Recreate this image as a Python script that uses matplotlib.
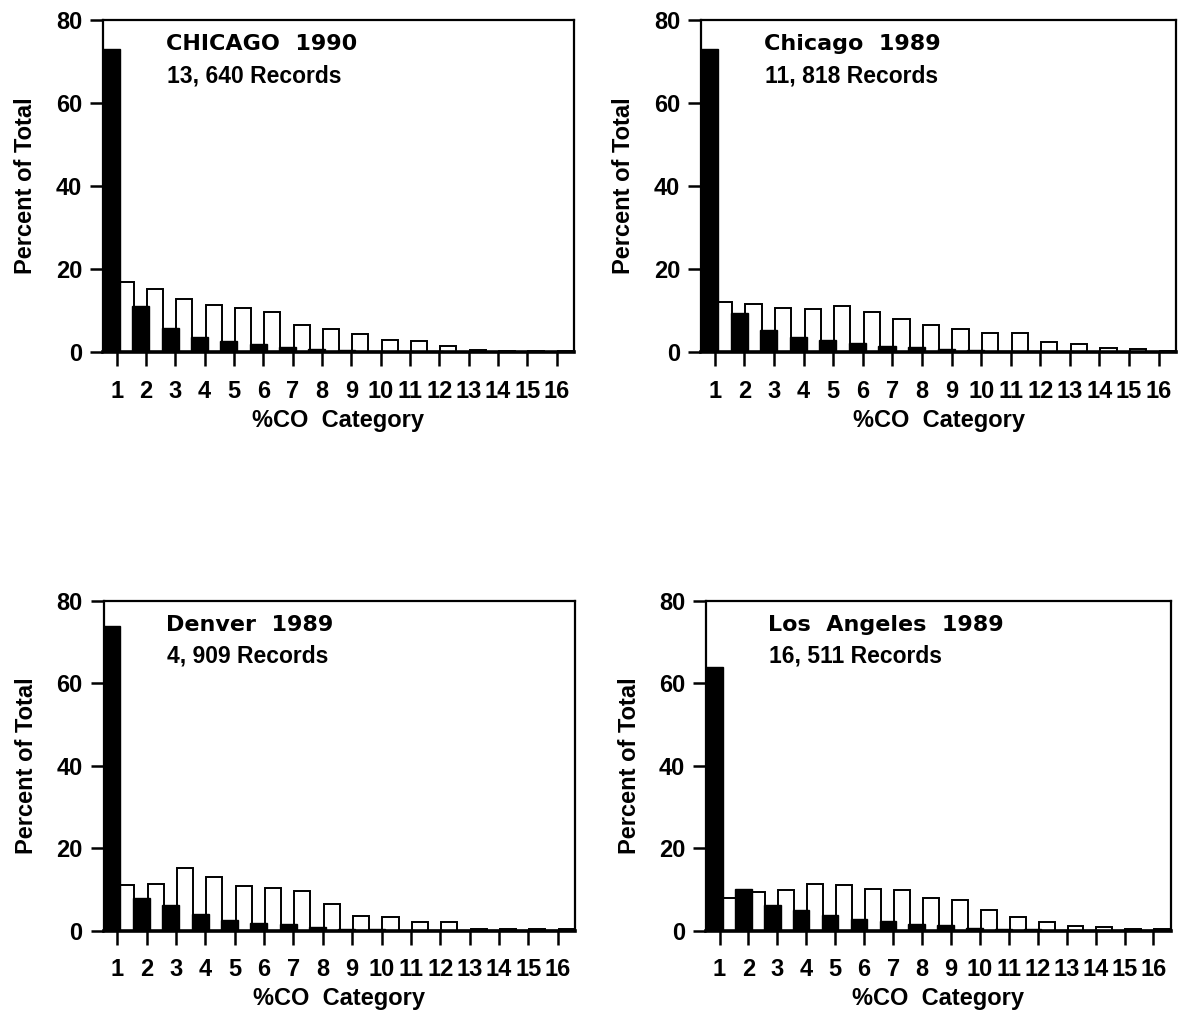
import matplotlib
matplotlib.use("Agg")
import matplotlib.pyplot as plt
import numpy as np

plt.rcParams['font.family'] = ['Liberation Sans', 'DejaVu Sans']

# ---------------- data ----------------
categories = list(range(1, 17))
tick_labels = [str(c) for c in categories]
y_ticks = [0, 20, 40, 60, 80]

titles = ["CHICAGO  1990", "Chicago  1989", "Denver  1989", "Los  Angeles  1989"]
records = ["13, 640 Records", "11, 818 Records", "4, 909 Records", "16, 511 Records"]

chi90_black = [73.0, 11.2, 5.8, 3.6, 2.6, 2.0, 1.2, 0.8, 0.5, 0.3, 0.2, 0.2, 0.1, 0.1, 0.1, 0.1]
chi90_white = [16.8, 15.2, 12.8, 11.3, 10.6, 9.7, 6.5, 5.5, 4.3, 3.0, 2.6, 1.5, 0.6, 0.2, 0.2, 0.2]

chi89_black = [73.0, 9.4, 5.2, 3.6, 3.0, 2.2, 1.5, 1.1, 0.8, 0.4, 0.3, 0.2, 0.2, 0.1, 0.1, 0.1]
chi89_white = [12.1, 11.6, 10.6, 10.4, 11.2, 9.7, 8.0, 6.4, 5.5, 4.6, 4.7, 2.5, 1.9, 0.9, 0.7, 0.3]

den_black = [74.0, 8.0, 6.2, 4.1, 2.6, 1.9, 1.6, 0.8, 0.4, 0.3, 0.2, 0.2, 0.1, 0.1, 0.1, 0.1]
den_white = [11.0, 11.4, 15.1, 13.1, 10.9, 10.4, 9.5, 6.4, 3.6, 3.3, 2.0, 2.0, 0.3, 0.4, 0.4, 0.4]

la_black = [64.0, 10.1, 6.2, 5.0, 3.8, 2.8, 2.4, 1.5, 1.3, 0.7, 0.4, 0.3, 0.2, 0.2, 0.1, 0.1]
la_white = [8.0, 9.4, 9.8, 11.3, 11.0, 10.0, 9.8, 8.0, 7.4, 5.1, 3.4, 2.1, 1.0, 0.8, 0.3, 0.3]

black_series = [chi90_black, chi89_black, den_black, la_black]
white_series = [chi90_white, chi89_white, den_white, la_white]

# ---------------- layout ----------------
fig = plt.figure(figsize=(11.82, 10.11), dpi=100)
positions = [
    [0.0871, 0.6518, 0.3985, 0.3284],
    [0.5931, 0.6518, 0.4019, 0.3284],
    [0.0876, 0.0796, 0.3989, 0.3259],
    [0.5973, 0.0796, 0.3930, 0.3259],
]

x = np.array(categories, dtype=float)

for pos, title, rec, blk, wht in zip(positions, titles, records, black_series, white_series):
    ax = fig.add_axes(pos)
    ax.bar(x + 0.305, wht, width=0.55, facecolor='white', edgecolor='black',
           linewidth=1.4, zorder=2)
    ax.bar(x - 0.18, blk, width=0.58, facecolor='black', edgecolor='black',
           linewidth=1.0, zorder=3)
    ax.set_xlim(0.533, 16.59)
    ax.set_ylim(0, 80)
    ax.set_xticks(x)
    ax.set_xticklabels(tick_labels)
    ax.set_yticks(y_ticks)
    ax.tick_params(axis='both', direction='out', width=1.8, labelsize=17)
    ax.tick_params(axis='y', length=9.5, pad=5.5)
    ax.tick_params(axis='x', length=10, pad=10)
    for lab in ax.get_xticklabels() + ax.get_yticklabels():
        lab.set_fontweight('bold')
    for side in ['left', 'top', 'right']:
        ax.spines[side].set_linewidth(1.6)
    ax.spines['bottom'].set_linewidth(2.6)
    for s in ax.spines.values():
        s.set_zorder(4)

    ax.set_ylabel('Percent of Total', fontsize=17, fontweight='bold')
    ax.yaxis.set_label_coords(-0.14, 0.5)
    ax.set_xlabel('%CO  Category', fontsize=17, fontweight='bold')
    ax.xaxis.set_label_coords(0.5, -0.172)

    ax.text(0.133, 0.91, title, transform=ax.transAxes, family='DejaVu Sans',
            fontweight='bold', fontsize=16, va='baseline', ha='left')
    ax.text(0.135, 0.813, rec, transform=ax.transAxes, fontweight='bold',
            fontsize=16.5, va='baseline', ha='left')

fig.savefig("out.png", dpi=100)
